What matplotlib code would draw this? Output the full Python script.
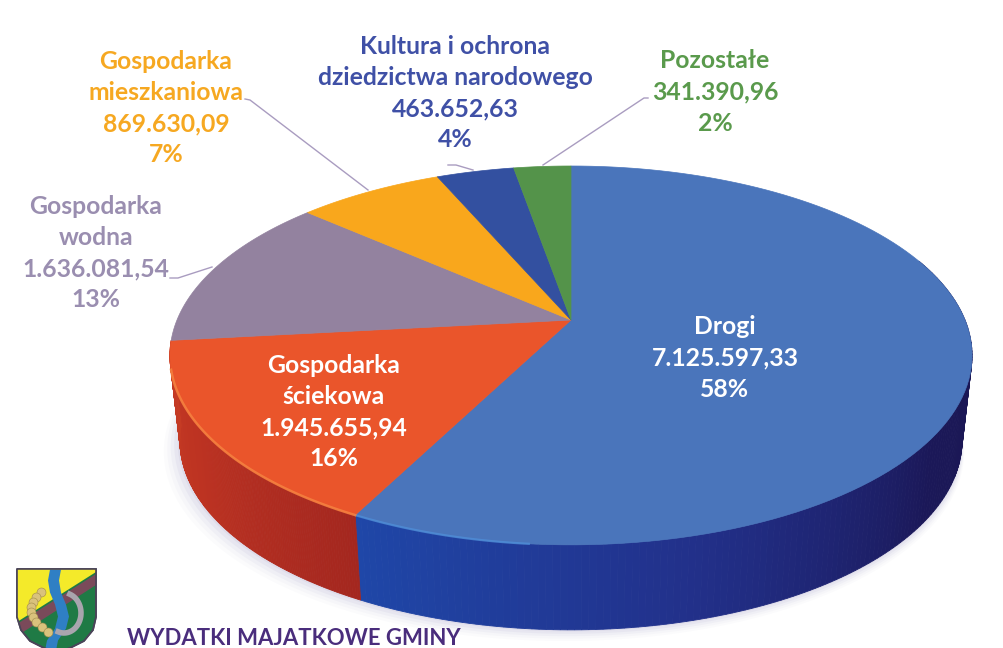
import matplotlib
matplotlib.use('Agg')
import matplotlib.pyplot as plt
from matplotlib.colors import to_rgb
import numpy as np

plt.rcParams['font.family'] = ['Lato', 'DejaVu Sans']

# dane
categories = ['Drogi', 'Gospodarka\nściekowa', 'Gospodarka\nwodna', 'Gospodarka\nmieszkaniowa',
              'Kultura i ochrona\ndziedzictwa narodowego', 'Pozostałe']
values = [7125597.33, 1945655.94, 1636081.54, 869630.09, 463652.63, 341390.96]
value_labels = ['7.125.597,33', '1.945.655,94', '1.636.081,54', '869.630,09', '463.652,63', '341.390,96']
percents = ['58%', '16%', '13%', '7%', '4%', '2%']
title = 'WYDATKI MAJATKOWE GMINY'

top_colors = ['#4a75bb', '#ea552b', '#93829f', '#f9a71c', '#3350a0', '#54934a']
text_colors = ['white', 'white', '#9a8eb0', '#f6a821', '#3f50a6', '#5a9a4c']
label_pos = [(725, 358), (334, 412), (96, 253), (166, 108), (455, 93), (715, 92)]

# rzut perspektywiczny kola
cx, apex_y = 571, 320
A, B, k = 394, 182.8, 0.187
depth = 85
shrink = 0.975


def rim(theta):
    X, Y = np.sin(theta), np.cos(theta)
    w = 1 + k * Y
    return cx + A * X / w, apex_y - B * Y / w


def low_rim(theta):
    x, y = rim(theta)
    return cx + (x - cx) * shrink, y + depth


fig = plt.figure(figsize=(10.04, 6.48), dpi=100)
ax = fig.add_axes([0, 0, 1, 1])
ax.set_xlim(0, 1004)
ax.set_ylim(648, 0)
ax.axis('off')

edges = np.cumsum([0] + values) / sum(values) * 2 * np.pi

# cien pod tortem
all_t = np.linspace(0, 2 * np.pi, 300)
lx, ly = low_rim(all_t)
for off, alpha in [(14, 0.03), (11, 0.04), (8, 0.06), (5, 0.08), (2, 0.10)]:
    ax.fill(cx + (lx - cx) * (1 + off / 600) - off * 0.5, ly + off * 0.8, color='#8f88b8', alpha=alpha, lw=0, zorder=1)

# bok tortu
side_stops = {
    0: [(np.radians(70), '#1a1650'), (np.radians(125), '#1b1858'), (np.radians(165), '#22308a'), (edges[1], '#1f47a8')],
    1: [(edges[1], '#a4271f'), (np.radians(240), '#bd3322'), (edges[2], '#c53b24')],
}
for i, stops in side_stops.items():
    start = max(edges[i], stops[0][0])
    end = edges[i + 1]
    ts = np.linspace(start, end, 160)
    st_t = [s[0] for s in stops]
    st_c = np.array([to_rgb(s[1]) for s in stops])
    for t0, t1 in zip(ts[:-1], ts[1:]):
        tm = (t0 + t1) / 2
        col = [np.interp(tm, st_t, st_c[:, c]) for c in range(3)]
        x0, y0 = rim(t0)
        x1, y1 = rim(t1)
        x2, y2 = low_rim(t1)
        x3, y3 = low_rim(t0)
        ax.fill([x0, x1, x2, x3], [y0, y1, y2, y3], color=col, lw=0.6, zorder=2)

# wierzch tortu
for i, val in enumerate(values):
    t = np.linspace(edges[i], edges[i + 1], 120)
    x, y = rim(t)
    ax.fill(np.r_[cx, x], np.r_[apex_y, y], color=top_colors[i], lw=0.5, zorder=3)

# jasna krawedz
t = np.linspace(np.radians(185), edges[1], 40)
ax.plot(*rim(t), color='#4f8ed8', lw=1.6, alpha=0.8, zorder=4)
t = np.linspace(edges[1], np.radians(255), 60)
ax.plot(*rim(t), color='#f5803f', lw=1.8, alpha=0.9, zorder=4)

# linie odniesienia
leaders = [([245, 250, 368], [99, 100, 190]), ([170, 178, 212], [278, 278, 267]),
           ([448, 456, 473], [165, 165, 170]), ([648, 644, 543], [98, 98, 165])]
for lx_, ly_ in leaders:
    ax.plot(lx_, ly_, color='#a99cc0', lw=1, zorder=5)

# etykiety
for i, cat in enumerate(categories):
    txt = cat + '\n' + value_labels[i] + '\n' + percents[i]
    ax.text(label_pos[i][0], label_pos[i][1], txt, color=text_colors[i], fontsize=17.8, fontweight='bold',
            ha='center', va='center', linespacing=1.435, zorder=6)

ax.text(127, 638.5, title, color='#4a2d7c', fontsize=15.9, fontweight='bold', ha='left', va='center', zorder=6)

# herb
sx = np.array([17, 96, 96, 93, 84, 70, 57, 44, 30, 21, 17])
sy = np.array([569, 569, 617, 630, 641, 648, 652, 648, 641, 630, 617])
shield = ax.fill(sx, sy, color='#1f7a45', ec='#4a4458', lw=1.2, zorder=7)[0]
yellow = ax.fill([17, 96, 96, 17], [569, 569, 572, 622], color='#f4ea2a', lw=0, zorder=8)[0]
band = ax.fill([17, 96, 96, 17], [624, 574, 585, 636], color='#7a4a5a', lw=0, zorder=9)[0]
for p in (yellow, band):
    p.set_clip_path(shield.get_path(), shield.get_transform())
riv_y = np.array([569, 580, 592, 604, 616, 628, 640, 650])
riv_x = np.array([55, 53, 55, 60, 63, 60, 52, 50])
ax.fill_betweenx(riv_y, riv_x - 5.5, riv_x + 5.5, color='#2f7fc4', lw=0, zorder=10)
th = np.radians(np.linspace(-70, 110, 40))
ax.plot(64 + 17 * np.cos(th), 613 + 20 * np.sin(th), color='#a9a5ae', lw=4, zorder=11)
wy = np.arange(592, 634, 5)
wx = np.array([41, 36, 33, 31, 31, 33, 36, 42, 48])
ax.scatter(wx, wy, s=42, marker='o', color='#d9c27c', ec='#a08a4a', lw=0.4, zorder=12)
ax.fill(sx, sy, fc='none', ec='#4a4458', lw=1.2, zorder=13)

fig.savefig('out.png', dpi=100)
